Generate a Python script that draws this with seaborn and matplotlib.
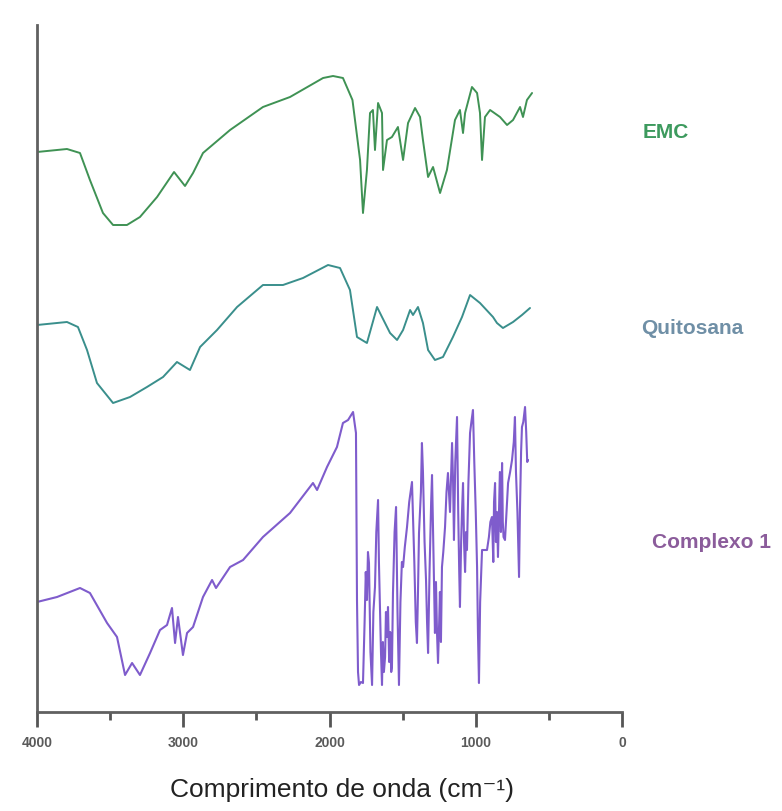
import matplotlib
matplotlib.use("Agg")
import matplotlib.pyplot as plt
import seaborn as sns
import pandas as pd

# ---- data (wavenumber in cm-1, intensity in arbitrary units, stacked) ----
emc_wn = [4000, 3795, 3706, 3638, 3549, 3480, 3385, 3296, 3179, 3063, 2988, 2933, 2865,
          2680, 2455, 2270, 2044, 1976, 1908, 1843, 1791, 1771, 1744, 1723, 1703, 1689,
          1668, 1641, 1634, 1607, 1573, 1532, 1497, 1463, 1415, 1381, 1361, 1326, 1292,
          1244, 1197, 1142, 1108, 1087, 1073, 1026, 991, 971, 957, 937, 902, 834, 786,
          745, 697, 677, 650, 615]
emc_val = [560, 563, 559, 532, 499, 487, 487, 495, 515, 540, 526, 539, 559,
           582, 605, 615, 634, 636, 634, 612, 552, 499, 542, 599, 602, 562,
           609, 599, 542, 572, 575, 585, 552, 589, 604, 595, 572, 535, 545,
           519, 542, 592, 602, 579, 599, 625, 619, 599, 552, 595, 602, 595, 587,
           592, 605, 595, 612, 619]

qui_wn = [4000, 3795, 3720, 3658, 3590, 3480, 3364, 3248, 3138, 3043, 2954, 2885, 2769,
          2632, 2455, 2318, 2181, 2010, 1928, 1860, 1812, 1744, 1675, 1641, 1586, 1538,
          1497, 1449, 1429, 1395, 1361, 1326, 1279, 1224, 1156, 1094, 1039, 971, 882,
          855, 814, 745, 684, 629]
qui_val = [387, 390, 385, 362, 329, 309, 315, 325, 335, 350, 342, 365, 382,
           405, 427, 427, 434, 447, 444, 422, 375, 369, 405, 395, 379, 372,
           382, 402, 397, 405, 389, 362, 352, 355, 375, 395, 417, 409, 395,
           389, 384, 390, 397, 404]

cpx_wn = [4000, 3863, 3706, 3638, 3521, 3453, 3398, 3350, 3296, 3227, 3159, 3111, 3077,
          3056, 3036, 3002, 2974, 2933, 2865, 2803, 2776, 2680, 2591, 2455, 2270, 2113,
          2085, 2017, 1949, 1908, 1873, 1839, 1819, 1812, 1805, 1798, 1785, 1771, 1760,
          1752, 1744, 1737, 1730, 1720, 1709, 1700, 1689, 1680, 1668, 1662, 1655, 1648,
          1641, 1635, 1628, 1620, 1614, 1607, 1600, 1592, 1585, 1578, 1573, 1566, 1555,
          1545, 1535, 1525, 1515, 1505, 1497, 1485, 1470, 1455, 1436, 1420, 1410, 1402,
          1395, 1388, 1375, 1368, 1361, 1350, 1340, 1333, 1326, 1316, 1305, 1299, 1292,
          1285, 1279, 1272, 1265, 1258, 1250, 1245, 1238, 1231, 1222, 1210, 1200, 1190,
          1176, 1162, 1155, 1149, 1140, 1128, 1120, 1113, 1108, 1100, 1094, 1087, 1080,
          1073, 1066, 1060, 1050, 1039, 1030, 1019, 1010, 1000, 991, 985, 978, 970,
          957, 940, 923, 910, 900, 889, 880, 875, 868, 862, 855, 848, 840, 835, 828,
          820, 815, 810, 800, 790, 779, 765, 752, 740, 732, 725, 715, 704, 698, 690,
          684, 675, 663, 655, 648, 643]
cpx_val = [110, 115, 124, 119, 89, 75, 37, 49, 37, 59, 82, 87, 104,
           69, 95, 57, 79, 85, 115, 132, 124, 145, 152, 175, 199, 229,
           222, 245, 265, 289, 292, 300, 279, 112, 40, 27, 30, 29, 90,
           140, 112, 160, 149, 60, 27, 100, 125, 180, 212, 150, 105, 60,
           27, 70, 40, 55, 100, 75, 105, 50, 80, 40, 45, 119, 180,
           205, 100, 27, 110, 150, 145, 165, 185, 210, 230, 150, 90, 69,
           120, 179, 220, 269, 240, 170, 132, 90, 59, 140, 210, 237, 180,
           120, 79, 130, 80, 49, 90, 120, 70, 145, 160, 185, 220, 239,
           200, 269, 230, 172, 250, 295, 200, 140, 105, 170, 200, 229, 170,
           140, 180, 162, 230, 279, 290, 302, 250, 200, 145, 80, 29, 110,
           162, 162, 162, 175, 190, 195, 150, 210, 229, 170, 200, 155, 210, 240, 180,
           249, 190, 175, 172, 200, 229, 240, 252, 270, 295, 240, 200, 135, 200, 260,
           285, 290, 305, 280, 250, 252]

wn_ticks = [4000, 3000, 2000, 1000, 0]
wn_minor = [3500, 2500, 1500, 500]

series = [
    ("EMC", emc_wn, emc_val, "#3f9254", "#3d9a5e", 1.4),
    ("Quitosana", qui_wn, qui_val, "#3a8f8c", "#6f8fa6", 1.4),
    ("Complexo 1", cpx_wn, cpx_val, "#7f5ccc", "#8b5c9b", 1.5),
]

sns.set_theme(style="white")
plt.rcParams["font.family"] = ["Liberation Sans", "DejaVu Sans"]

fig = plt.figure(figsize=(7.82, 8.11), dpi=100)
ax = fig.add_axes([37 / 782, 1 - 712 / 811, 585 / 782, 687 / 811])

for name, wn, val, lc, _, lw in series:
    df = pd.DataFrame({"wn": wn, "val": val})
    sns.lineplot(data=df, x="wn", y="val", ax=ax, color=lc, linewidth=lw,
                 estimator=None, sort=False)

ax.set_xlim(4000, 0)
ax.set_ylim(0, 687)
ax.set_xlabel("")
ax.set_ylabel("")
ax.set_yticks([])
ax.set_xticks(wn_ticks)
ax.set_xticklabels([str(t) for t in wn_ticks], fontsize=10, fontweight="bold",
                   color="#5a5a5a")
ax.set_xticks(wn_minor, minor=True)
ax.tick_params(axis="x", which="major", direction="out", length=11, width=2,
               color="#555555", pad=6, bottom=True)
ax.tick_params(axis="x", which="minor", direction="out", length=6, width=2,
               color="#555555", bottom=True)
for s in ["top", "right"]:
    ax.spines[s].set_visible(False)
for s in ["left", "bottom"]:
    ax.spines[s].set_color("#606060")
    ax.spines[s].set_linewidth(2)

label_pos = {"EMC": (666, 132), "Quitosana": (692, 328), "Complexo 1": (712, 543)}
for name, _, _, _, tc, _ in series:
    px, py = label_pos[name]
    fig.text(px / 782, 1 - py / 811, name, ha="center", va="center",
             fontsize=15, fontweight="bold", color=tc)

fig.text(342 / 782, 1 - 790 / 811, "Comprimento de onda (cm\u207b\u00b9)",
         ha="center", va="center", fontsize=19, color="#222222")

fig.savefig("out.png", dpi=100)
